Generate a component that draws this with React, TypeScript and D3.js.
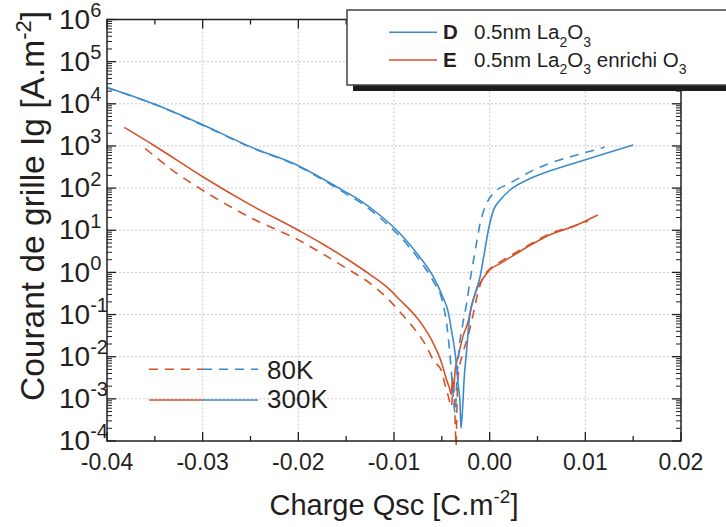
import React from "react";
import * as d3 from "d3";

// ---------- data ----------
// D : 0.5nm La2O3, 300K (solid blue)
const qD300 = [-0.04, -0.035, -0.03, -0.025, -0.02, -0.0153, -0.0136, -0.0115, -0.0094, -0.0073, -0.0059, -0.0049, -0.0043, -0.004, -0.0037, -0.00345, -0.0033, -0.0031, -0.003, -0.0028, -0.0027, -0.0024, -0.0021, -0.0015, -0.001, -0.0005, -0.00014, 0.0004, 0.0011, 0.0021, 0.0039, 0.0063, 0.009, 0.0115, 0.015];
const igD300 = [2.45e4, 9.8e3, 3.2e3, 9.5e2, 3.4e2, 87, 52, 23, 8.5, 2.3, 0.79, 0.26, 0.107, 0.043, 0.017, 5.8e-3, 2.3e-3, 7.9e-4, 2.0e-4, 7.9e-4, 2.3e-3, 0.0145, 0.089, 0.32, 0.79, 3.4, 10, 30, 52, 89, 155, 257, 400, 600, 1050];
// D : 0.5nm La2O3, 80K (dashed blue)
const qD80 = [-0.04, -0.035, -0.03, -0.025, -0.02, -0.0153, -0.0136, -0.0115, -0.0094, -0.0073, -0.0059, -0.0049, -0.0045, -0.0042, -0.0039, -0.0036, -0.00345, -0.0032, -0.0028, -0.0024, -0.0021, -0.0015, -0.001, -0.0003, 0.0004, 0.0021, 0.0046, 0.0063, 0.009, 0.012];
const igD80 = [2.4e4, 9.6e3, 3.1e3, 9.3e2, 3.3e2, 80, 47, 20, 7.2, 1.9, 0.62, 0.19, 0.062, 0.0145, 2.3e-3, 4.6e-4, 2.3e-3, 0.0145, 0.062, 0.19, 0.55, 3.4, 14.5, 44, 76, 129, 270, 390, 600, 930];
// E : 0.5nm La2O3 enrichi O3, 300K (solid red)
const qE300 = [-0.0382, -0.035, -0.03, -0.025, -0.02, -0.0175, -0.015, -0.0125, -0.0105, -0.0094, -0.008, -0.0069, -0.0059, -0.005, -0.0045, -0.0042, -0.004, -0.0039, -0.0038, -0.0036, -0.0033, -0.0028, -0.0022, -0.0019, -0.0014, -0.0008, 0.0, 0.0011, 0.0028, 0.0046, 0.0063, 0.009, 0.0113];
const igE300 = [2.75e3, 1.0e3, 186, 40, 10, 4.8, 2.14, 0.89, 0.4, 0.224, 0.107, 0.051, 0.021, 6.9e-3, 2.8e-3, 1.8e-3, 1.26e-3, 3.2e-3, 1.4e-3, 5e-3, 0.01, 0.03, 0.074, 0.155, 0.38, 0.66, 1.15, 1.62, 2.8, 4.9, 7.8, 13, 23];
// E : 0.5nm La2O3 enrichi O3, 80K (dashed red)
const qE80 = [-0.036, -0.033, -0.03, -0.025, -0.02, -0.0175, -0.015, -0.0125, -0.0105, -0.0094, -0.008, -0.0066, -0.0059, -0.005, -0.0047, -0.0043, -0.004, -0.0038, -0.0036, -0.00352, -0.0034, -0.0033, -0.0028, -0.0022, -0.0017, -0.0012, -0.0008, 0.0, 0.0011, 0.0028, 0.0046, 0.0063, 0.0085, 0.0103];
const igE80 = [870, 250, 89, 20, 5.9, 2.8, 1.26, 0.55, 0.22, 0.117, 0.05, 0.0174, 8.3e-3, 4.4e-3, 2.3e-3, 1.1e-3, 6.5e-4, 2e-3, 2.6e-4, 7.6e-5, 1e-3, 3.4e-3, 0.012, 0.035, 0.107, 0.35, 0.66, 1.2, 1.78, 3.0, 5.2, 8.3, 12, 16.6];

const xTicks = [-0.04, -0.03, -0.02, -0.01, 0, 0.01, 0.02];
const xTickLabels = ["-0.04", "-0.03", "-0.02", "-0.01", "0.00", "0.01", "0.02"];
const xMinorTicks = [-0.035, -0.025, -0.015, -0.005, 0.005, 0.015];
const yExponents = [6, 5, 4, 3, 2, 1, 0, -1, -2, -3, -4];

const BLUE = "#3b8bcd";
const RED = "#d5532b";
const AXIS = "#231f20";
const FONT = "'Liberation Sans', Arial, Helvetica, sans-serif";

export default function App() {
  const W = 726, H = 527;
  const left = 107, right = 681, top = 19.5, bottom = 441;
  const x = d3.scaleLinear().domain([-0.04, 0.02]).range([left, right]);
  const y = d3.scaleLog().domain([1e-4, 1e6]).range([bottom, top]);

  const line = d3.line<[number, number]>()
    .x((d) => x(d[0]))
    .y((d) => y(d[1]))
    .curve(d3.curveMonotoneX);
  const zip = (a: number[], b: number[]) => a.map((v, i) => [v, b[i]] as [number, number]);

  const series = [
    { q: qE80, ig: igE80, color: RED, dash: "9,7" },
    { q: qE300, ig: igE300, color: RED, dash: null },
    { q: qD80, ig: igD80, color: BLUE, dash: "9,7" },
    { q: qD300, ig: igD300, color: BLUE, dash: null },
  ];

  const yMinor: number[] = [];
  for (let e = -4; e < 6; e++) for (let k = 2; k <= 9; k++) yMinor.push(k * Math.pow(10, e));

  const gridStyle = { stroke: "#c4c4c4", strokeWidth: 0.9, strokeDasharray: "2,2" };
  const MAJ = 9, MIN = 5;

  return (
    <svg width={W} height={H} style={{ position: "absolute", left: 0, top: 0, background: "#fff" }} fontFamily={FONT}>
      <rect x={0} y={0} width={W} height={H} fill="#fff" />
      {/* grid */}
      {xTicks.slice(1, -1).map((t) => (
        <line key={"gx" + t} x1={x(t)} x2={x(t)} y1={top} y2={bottom} {...gridStyle} />
      ))}
      {yExponents.slice(1, -1).map((e) => (
        <line key={"gy" + e} x1={left} x2={right} y1={y(Math.pow(10, e))} y2={y(Math.pow(10, e))} {...gridStyle} />
      ))}

      {/* curves */}
      {series.map((s, i) => (
        <path key={i} d={line(zip(s.q, s.ig)) || ""} fill="none" stroke={s.color} strokeWidth={1.6}
          strokeDasharray={s.dash || undefined} />
      ))}

      {/* axes box */}
      <rect x={left} y={top} width={right - left} height={bottom - top} fill="none" stroke={AXIS} strokeWidth={1.5} />
      {/* x ticks */}
      {xTicks.map((t) => (
        <g key={"xt" + t} stroke={AXIS} strokeWidth={1.3}>
          <line x1={x(t)} x2={x(t)} y1={bottom} y2={bottom - MAJ} />
          <line x1={x(t)} x2={x(t)} y1={top} y2={top + MAJ} />
        </g>
      ))}
      {xMinorTicks.map((t) => (
        <g key={"xm" + t} stroke={AXIS} strokeWidth={1.3}>
          <line x1={x(t)} x2={x(t)} y1={bottom} y2={bottom - MIN} />
          <line x1={x(t)} x2={x(t)} y1={top} y2={top + MIN} />
        </g>
      ))}
      {/* y ticks */}
      {yExponents.map((e) => (
        <g key={"yt" + e} stroke={AXIS} strokeWidth={1.3}>
          <line x1={left} x2={left + MAJ} y1={y(Math.pow(10, e))} y2={y(Math.pow(10, e))} />
          <line x1={right} x2={right - MAJ} y1={y(Math.pow(10, e))} y2={y(Math.pow(10, e))} />
        </g>
      ))}
      {yMinor.map((v, i) => (
        <g key={"ym" + i} stroke={AXIS} strokeWidth={1}>
          <line x1={left} x2={left + MIN} y1={y(v)} y2={y(v)} />
          <line x1={right} x2={right - MIN} y1={y(v)} y2={y(v)} />
        </g>
      ))}

      {/* x tick labels */}
      {xTicks.map((t, i) => (
        <text key={"xl" + t} x={x(t)} y={469.5} textAnchor="middle" fontSize={23} fill={AXIS}>
          {xTickLabels[i]}
        </text>
      ))}
      {/* y tick labels */}
      {yExponents.map((e) => (
        <text key={"yl" + e} x={59} y={y(Math.pow(10, e)) + 9.2} fontSize={28} fill={AXIS}>
          10<tspan fontSize={20} dy={-11.8}>{String(e)}</tspan>
        </text>
      ))}

      {/* axis titles */}
      <text x={394} y={515} textAnchor="middle" fontSize={29} fill={AXIS}>
        Charge Qsc [C.m<tspan fontSize={19} dy={-12}>-2</tspan><tspan dy={12}>]</tspan>
      </text>
      <text transform="translate(44,206) rotate(-90)" textAnchor="middle" fontSize={33.5} fill={AXIS}>
        Courant de grille Ig [A.m<tspan fontSize={22} dy={-13.5}>-2</tspan><tspan dy={13.5}>]</tspan>
      </text>

      {/* bottom-left legend (temperatures) */}
      <line x1={149} x2={203} y1={369.3} y2={369.3} stroke={RED} strokeWidth={1.6} strokeDasharray="9,7" />
      <line x1={203} x2={258} y1={369.3} y2={369.3} stroke={BLUE} strokeWidth={1.6} strokeDasharray="9,7" />
      <line x1={149} x2={203} y1={400} y2={400} stroke={RED} strokeWidth={1.6} />
      <line x1={203} x2={258} y1={400} y2={400} stroke={BLUE} strokeWidth={1.6} />
      <text x={267} y={379} fontSize={26} fill={AXIS}>80K</text>
      <text x={267} y={408} fontSize={26} fill={AXIS}>300K</text>

      {/* top-right legend (samples) */}
      <rect x={353} y={16} width={400} height={75} fill="#1c1c1c" />
      <rect x={347} y={10} width={400} height={75} fill="#fff" stroke="#444" strokeWidth={1.5} />
      <line x1={389} x2={437} y1={32.3} y2={32.3} stroke={BLUE} strokeWidth={1.6} />
      <line x1={389} x2={437} y1={60} y2={60} stroke={RED} strokeWidth={1.6} />
      <text x={443} y={39} fontSize={20.5} fontWeight="bold" fill={AXIS}>D</text>
      <text x={474} y={39} fontSize={20.5} fill={AXIS}>
        0.5nm La<tspan fontSize={14} dy={7.5}>2</tspan><tspan dy={-7.5}>O</tspan><tspan fontSize={14} dy={7.5}>3</tspan>
      </text>
      <text x={443} y={66.7} fontSize={20.5} fontWeight="bold" fill={AXIS}>E</text>
      <text x={474} y={66.7} fontSize={20.5} fill={AXIS}>
        0.5nm La<tspan fontSize={14} dy={7.5}>2</tspan><tspan dy={-7.5}>O</tspan><tspan fontSize={14} dy={7.5}>3</tspan><tspan dy={-7.5}> enrichi O</tspan><tspan fontSize={14} dy={7.5}>3</tspan>
      </text>
    </svg>
  );
}
